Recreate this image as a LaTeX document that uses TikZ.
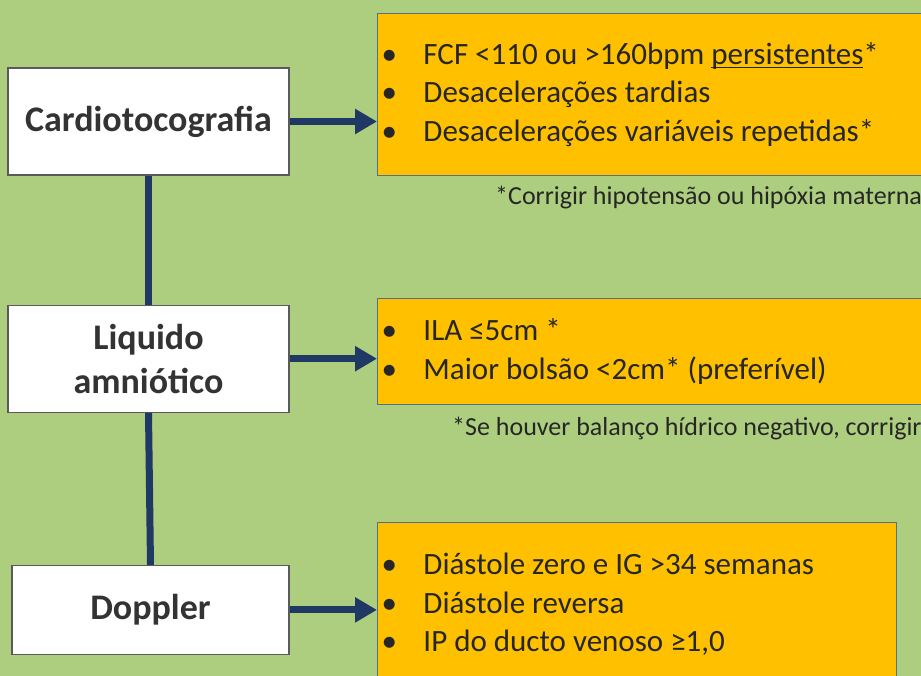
\documentclass[tikz,border=0pt]{standalone}
\usepackage{fontspec}
\setmainfont{Carlito}
\usetikzlibrary{arrows.meta,positioning}
\definecolor{verde}{HTML}{ACCE7E}
\definecolor{amarelo}{HTML}{FFC000}
\definecolor{azul}{HTML}{203864}
\definecolor{cinza}{HTML}{5A5A5A}
\definecolor{borda}{HTML}{56708A}
\definecolor{texto}{HTML}{262626}
\definecolor{titulo}{HTML}{333333}
\newcommand{\marca}{\makebox[42pt][l]{•}}
\newcommand{\sublinha}[1]{\setbox0\hbox{#1}\rlap{\rule[-4pt]{\wd0}{1.3pt}}\box0}
\tikzset{
  caixa/.style={draw=cinza,fill=white,line width=1.2pt,align=flush center,text=titulo,
                font=\fontsize{36}{44}\selectfont\bfseries,inner sep=0pt,
                minimum width=281pt,minimum height=107pt},
  lista/.style={draw=borda,fill=amarelo,line width=1pt,align=flush left,text=texto,
                font=\fontsize{31}{38.5}\selectfont,inner xsep=4pt,inner ysep=0pt},
  seta/.style={-{Triangle[length=22pt,width=24pt]},line width=7pt,color=azul},
  linha/.style={line width=7pt,color=azul},
  nota/.style={font=\fontsize{26}{30}\selectfont,text=texto,inner sep=0pt,anchor=base west},
}
\begin{document}
\begin{tikzpicture}[x=1pt,y=-1pt]
  \path[use as bounding box] (0,0) rectangle (921,676);
  \clip (0,0) rectangle (921,676);
  \fill[verde] (0,0) rectangle (921,676);
  % exames
  \node[caixa] (ctg) at (148.5,121.5) {Cardiotocografia};
  \node[caixa,below=129pt of ctg] (la) {Liquido\\amniótico};
  \node[caixa,below=152pt of la,xshift=2pt,minimum width=277pt,minimum height=89pt] (dop) {Doppler};
  % criterios
  \node[lista,anchor=north west,text width=555pt,minimum height=162pt] (r1) at (377,13)
    {\marca FCF <110 ou >160bpm \sublinha{persistentes}*\\
     \marca Desacelerações tardias\\
     \marca Desacelerações variáveis repetidas*};
  \node[lista,anchor=north west,text width=555pt,minimum height=106pt] (r2) at (377,298)
    {\marca ILA ≤5cm *\\
     \marca Maior bolsão <2cm* (preferível)};
  \node[lista,anchor=north west,text width=511pt,minimum height=164pt] (r3) at (377,522)
    {\marca Diástole zero e IG >34 semanas\\
     \marca Diástole reversa\\
     \marca IP do ducto venoso ≥1,0};
  \node[nota] (n1) at (495,205) {*Corrigir hipotensão ou hipóxia materna};
  \node[nota] (n2) at (452,435) {*Se houver balanço hídrico negativo, corrigir};
  % ligacoes
  \draw[linha] (ctg.south) -- (la.north);
  \draw[linha] (la.south) -- (dop.north);
  \foreach \u/\v in {ctg/r1,la/r2,dop/r3} \draw[seta] (\u.east) -- (\u.east -| \v.west);
\end{tikzpicture}
\end{document}
